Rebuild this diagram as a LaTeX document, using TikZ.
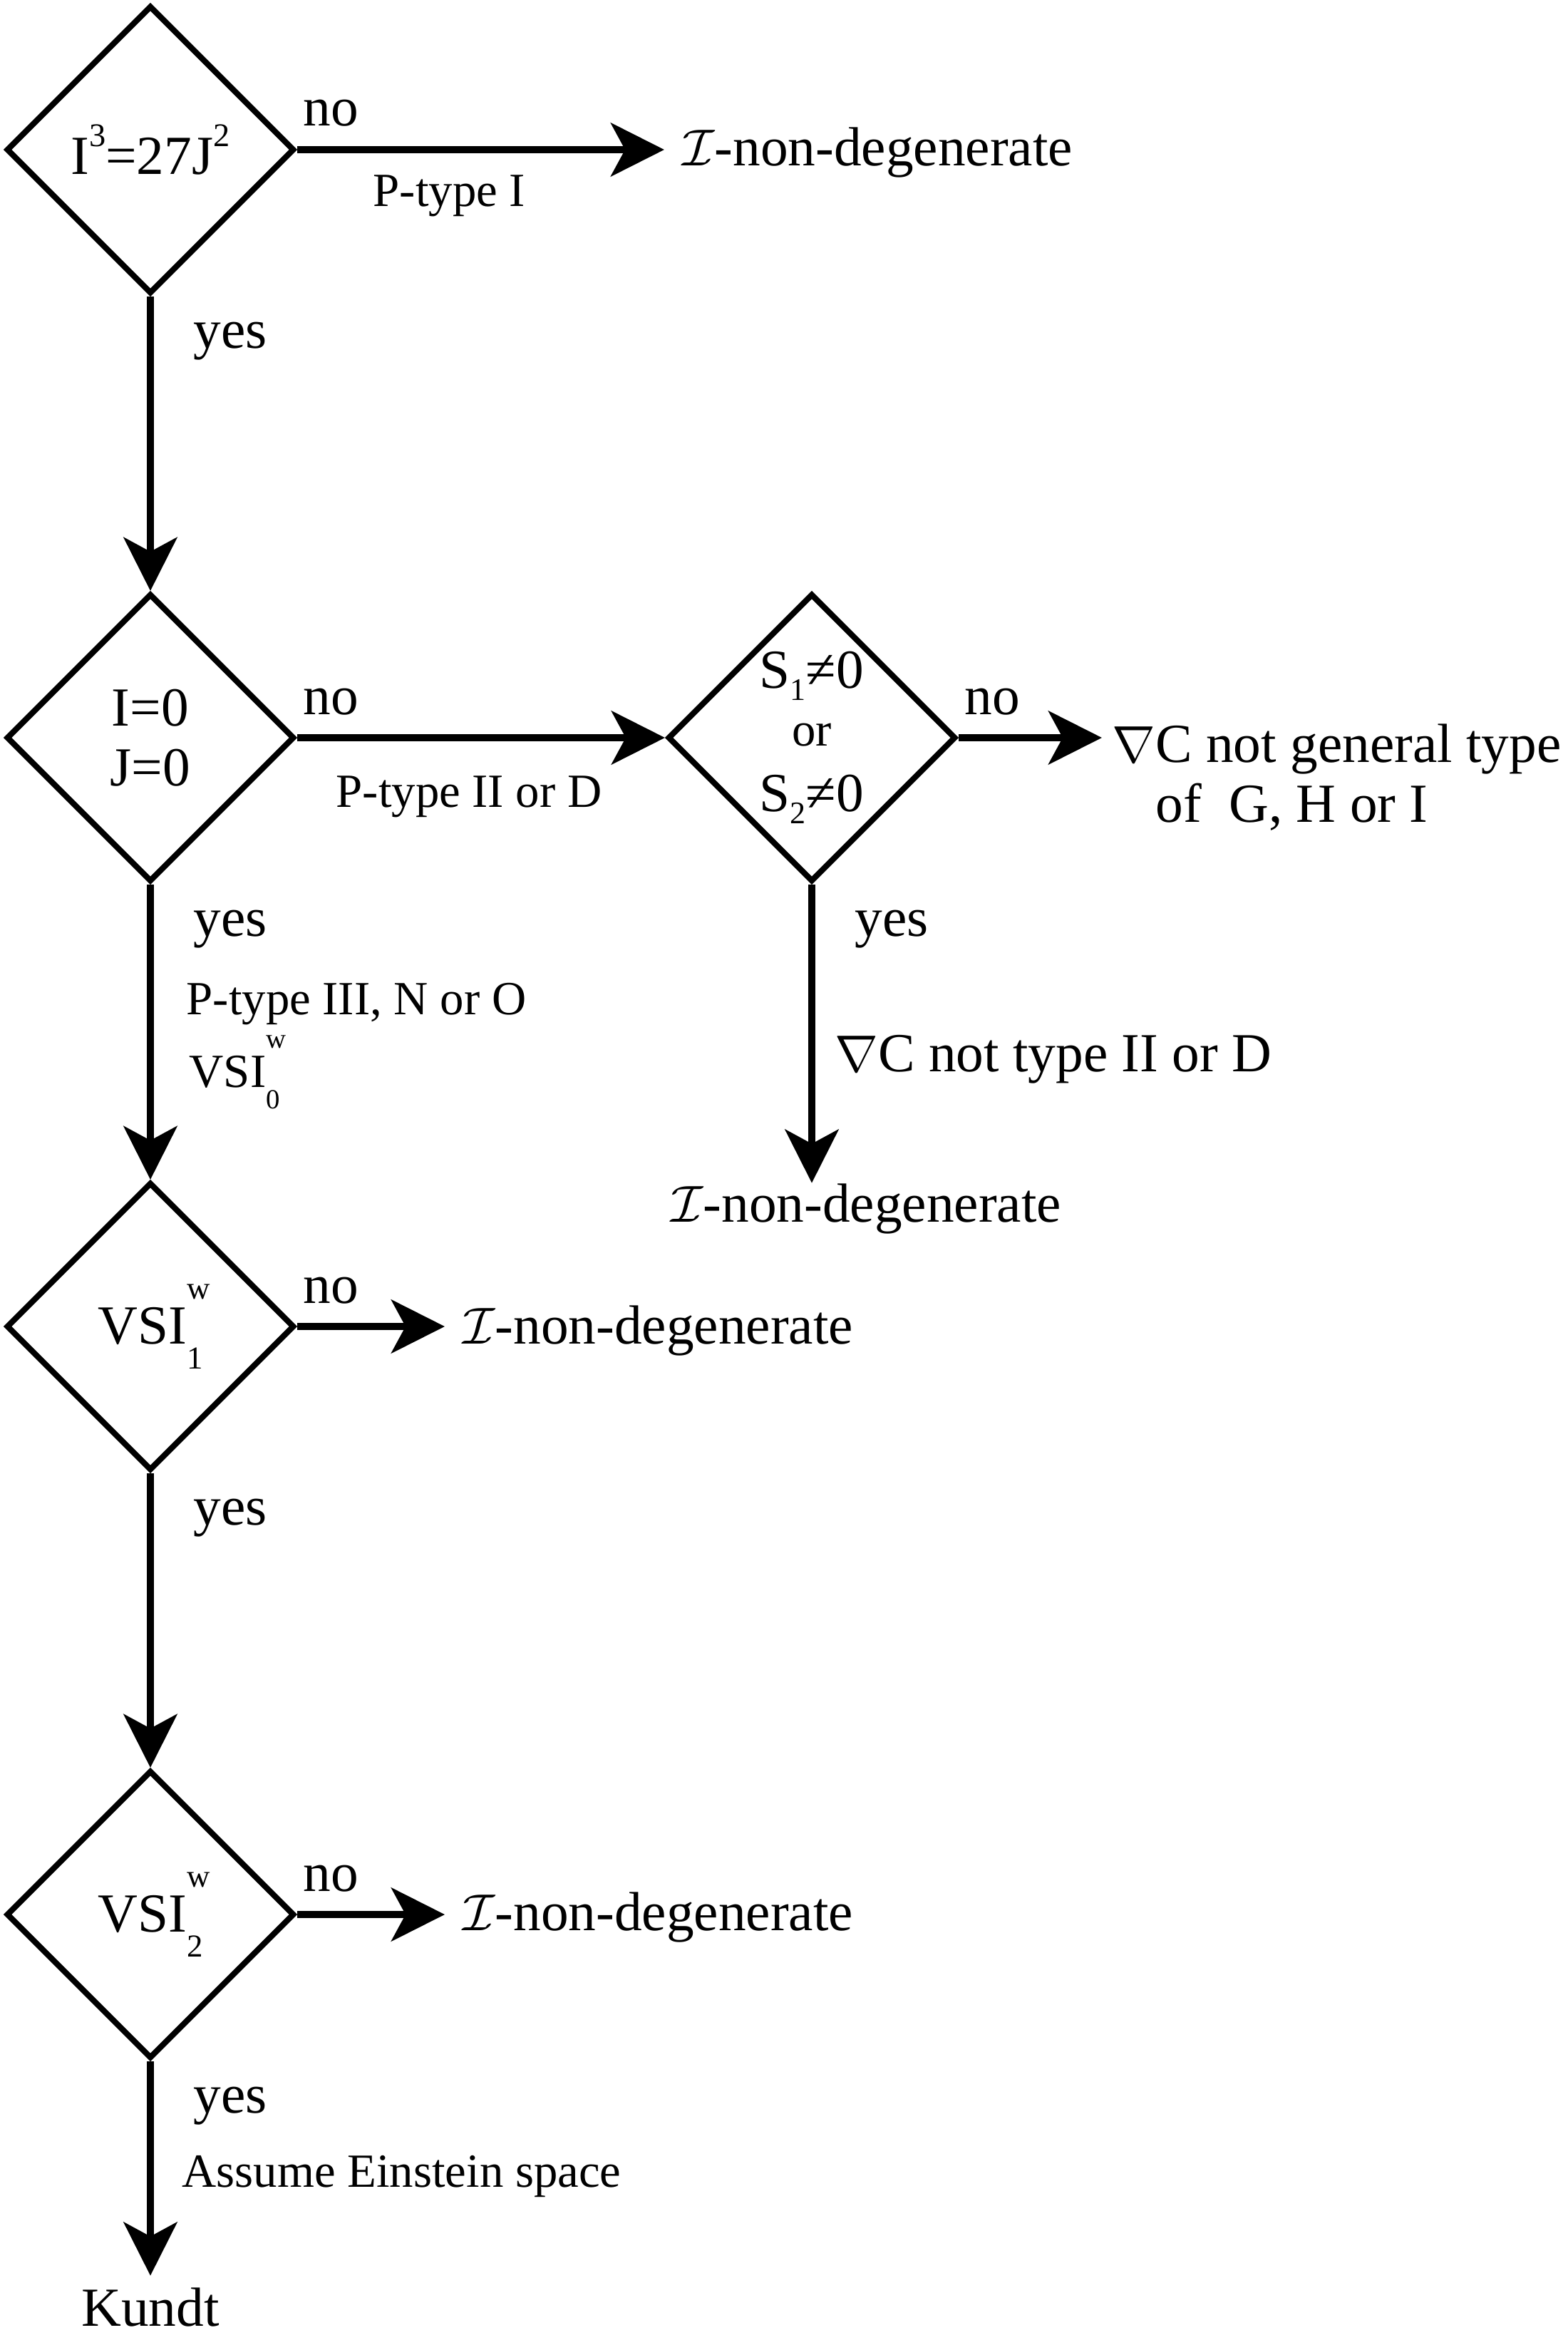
\documentclass[tikz,border=0pt]{standalone}
\usepackage{fontspec}
\setmainfont{Liberation Serif}
\usepackage{graphicx}
\usetikzlibrary{shapes.geometric,arrows.meta}

\newcommand{\mainsize}{\fontsize{22}{24}\selectfont}
\newcommand{\labelsize}{\fontsize{19}{21}\selectfont}
\newcommand{\nondeg}{$\mathcal{I}$-non-degenerate}
\newcommand{\upidx}[1]{\raisebox{0.5em}{\scalebox{0.6}{#1}}}
\newcommand{\lowidx}[1]{\raisebox{-0.22em}{\scalebox{0.57}{#1}}}
\newcommand{\vsi}[1]{VSI\rlap{\raisebox{0.82em}{\scalebox{0.58}{w}}}\raisebox{-0.45em}{\scalebox{0.58}{#1}}}

\begin{document}
\begin{tikzpicture}[
    decision/.style={diamond, draw, line width=2.3pt, minimum width=4.04cm, minimum height=4.04cm, inner sep=0pt, align=center, font=\mainsize},
    result/.style={inner xsep=2.5mm, inner ysep=0pt, align=left, font=\mainsize},
    remark/.style={anchor=base west, inner sep=0pt, font=\labelsize},
    answer/.style={anchor=base west, inner sep=0pt, font=\mainsize},
    arrow/.style={-{Stealth[length=7.5mm, width=7.5mm, inset=2mm]}, line width=2.8pt}
]

\useasboundingbox (0,0) rectangle (22,-32.97);

% Decisions
\node[decision] (d1) at (2.11,-2.10) {I\upidx{3}=27J\upidx{2}};
\node[decision] (d2) at (2.11,-10.35) {I=0\\J=0};
\node[decision] (d3) at (11.39,-10.35) {S\lowidx{1}≠0\\[-0.04cm]{\labelsize or}\\[0.08cm]S\lowidx{2}≠0};
\node[decision] (d4) at (2.11,-18.61) {\vsi{1}};
\node[decision] (d5) at (2.11,-26.86) {\vsi{2}};

% Outcomes
\node[result, anchor=base west] (t1) at (9.32,-2.33) {\nondeg};
\node[result, anchor=north west, inner xsep=1.4mm] (t2) at (15.46,-10.15) {$\nabla$C not general type\\\phantom{$\nabla$}of\ \ G, H or I};
\node[result, anchor=base west] (t3) at (9.16,-17.14) {\nondeg};
\node[result, anchor=base west] (t4) at (6.24,-18.85) {\nondeg};
\node[result, anchor=base west] (t5) at (6.24,-27.08) {\nondeg};
\node[result, anchor=base, inner ysep=1.6mm] (kundt) at (2.11,-32.63) {Kundt};

% Remarks
\node[remark] (p1) at (5.23,-2.90) {P-type I};
\node[remark] (p2) at (4.71,-11.32) {P-type II or D};
\node[remark] (p3) at (2.61,-14.23) {P-type III, N or O};
\node[remark] (p4) at (2.65,-15.25) {\vsi{0}};
\node[remark, font=\mainsize] (p5) at (11.71,-15.03) {$\nabla$C not type II or D};
\node[remark] (p6) at (2.55,-30.68) {Assume Einstein space};

% Arrows
\draw[arrow] (d1.east) -- (d1.east -| t1.west) node[answer, at start, xshift=0.4mm, yshift=3.3mm] (no1) {no};
\draw[arrow] (d1.south) -- (d2.north) node[answer, at start, xshift=5.6mm, yshift=-7.2mm] (yes1) {yes};
\draw[arrow] (d2.east) -- (d3.west) node[answer, at start, xshift=0.4mm, yshift=3.3mm] (no2) {no};
\draw[arrow] (d2.south) -- (d4.north) node[answer, at start, xshift=5.6mm, yshift=-7.2mm] (yes2) {yes};
\draw[arrow] (d3.east) -- (d3.east -| t2.west) node[answer, at start, xshift=0.4mm, yshift=3.3mm] (no3) {no};
\draw[arrow] (d3.south) -- (d3.south |- t3.north) node[answer, at start, xshift=5.6mm, yshift=-7.2mm] (yes3) {yes};
\draw[arrow] (d4.east) -- (d4.east -| t4.west) node[answer, at start, xshift=0.4mm, yshift=3.3mm] (no4) {no};
\draw[arrow] (d4.south) -- (d5.north) node[answer, at start, xshift=5.6mm, yshift=-7.2mm] (yes4) {yes};
\draw[arrow] (d5.east) -- (d5.east -| t5.west) node[answer, at start, xshift=0.4mm, yshift=3.3mm] (no5) {no};
\draw[arrow] (d5.south) -- (kundt.north) node[answer, at start, xshift=5.6mm, yshift=-7.2mm] (yes5) {yes};

\end{tikzpicture}
\end{document}
